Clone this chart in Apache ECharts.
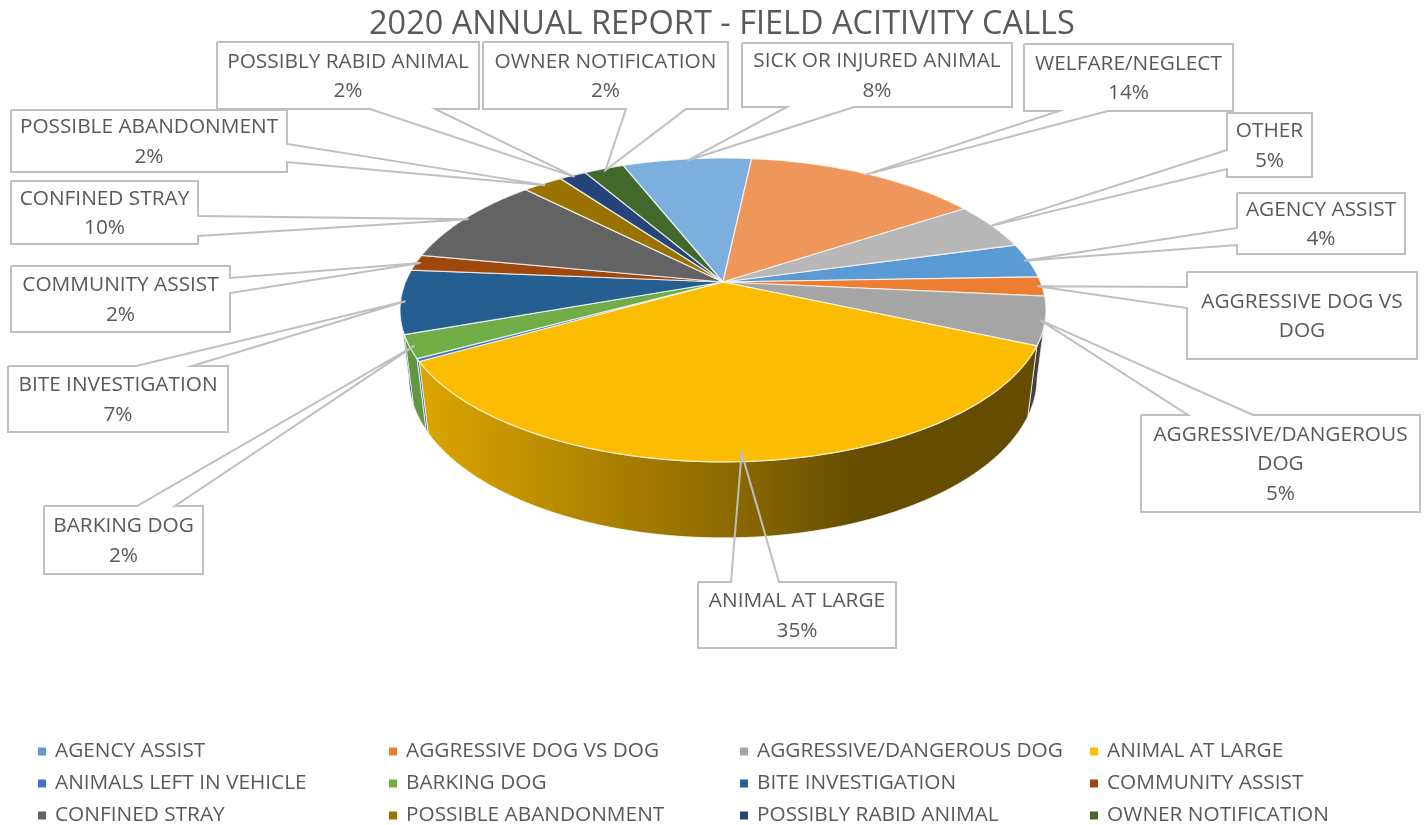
<!DOCTYPE html>
<html>
<head>
<meta charset="utf-8">
<title>2020 Annual Report</title>
<script src="https://cdn.jsdelivr.net/npm/echarts@6/dist/echarts.min.js"></script>
<style>
	html, body { margin: 0; padding: 0; background: #fff; }
	#main { width: 1425px; height: 825px; }
</style>
</head>
<body>
<div id="main"></div>
<script>
var titleText = "2020 ANNUAL REPORT - FIELD ACITIVITY CALLS";

var categories = ["AGENCY ASSIST", "AGGRESSIVE DOG VS DOG", "AGGRESSIVE/DANGEROUS DOG", "ANIMAL AT LARGE", "ANIMALS LEFT IN VEHICLE", "BARKING DOG", "BITE INVESTIGATION", "COMMUNITY ASSIST", "CONFINED STRAY", "POSSIBLE ABANDONMENT", "POSSIBLY RABID ANIMAL", "OWNER NOTIFICATION", "SICK OR INJURED ANIMAL", "WELFARE/NEGLECT", "OTHER"];
var values = [3.7, 2.05, 5.1, 35.2, 0.3, 2.45, 6.75, 1.7, 9.6, 2.4, 1.6, 2.4, 7.7, 14.05, 5.0];
var colors = ["#5b9bd5", "#ed7d31", "#a5a5a5", "#fcbd00", "#4472c4", "#70ad47", "#255e91", "#9e480e", "#636363", "#997300", "#264478", "#43682b", "#7cafdd", "#ef965b", "#b7b7b7"];

// legend columns (sick, welfare and other do not fit in the original legend)
var legendColumns = [
	["AGENCY ASSIST", "ANIMALS LEFT IN VEHICLE", "CONFINED STRAY"],
	["AGGRESSIVE DOG VS DOG", "BARKING DOG", "POSSIBLE ABANDONMENT"],
	["AGGRESSIVE/DANGEROUS DOG", "BITE INVESTIGATION", "POSSIBLY RABID ANIMAL"],
	["ANIMAL AT LARGE", "COMMUNITY ASSIST", "OWNER NOTIFICATION"]
];
var legendLefts = [38, 389, 740, 1090];

// callout boxes, same order as categories: x, y, w, h, side the wedge leaves from, wedge roots along that side
var calloutBoxes = [
	{ x: 1237, y: 193, w: 168, h: 61, side: "left", roots: [245, 228], text: "AGENCY ASSIST" },
	{ x: 1187, y: 272, w: 230, h: 87, side: "left", roots: [308, 287], text: "AGGRESSIVE DOG VS\nDOG", noPercent: true },
	{ x: 1141, y: 415, w: 279, h: 97, side: "top", roots: [1188, 1253], text: "AGGRESSIVE/DANGEROUS\nDOG" },
	{ x: 698, y: 582, w: 198, h: 66, side: "top", roots: [731, 779], text: "ANIMAL AT LARGE", tipFrac: 0.96 },
	null,
	{ x: 44, y: 506, w: 159, h: 68, side: "top", roots: [137, 175], text: "BARKING DOG" },
	{ x: 8, y: 366, w: 220, h: 66, side: "top", roots: [136, 192], text: "BITE INVESTIGATION" },
	{ x: 11, y: 266, w: 219, h: 66, side: "right", roots: [278, 293], text: "COMMUNITY ASSIST" },
	{ x: 11, y: 181, w: 187, h: 63, side: "right", roots: [216, 236], text: "CONFINED STRAY" },
	{ x: 11, y: 110, w: 276, h: 62, side: "right", roots: [144, 162], text: "POSSIBLE ABANDONMENT" },
	{ x: 217, y: 42, w: 262, h: 67, side: "bottom", roots: [435, 370], text: "POSSIBLY RABID ANIMAL" },
	{ x: 483, y: 42, w: 245, h: 67, side: "bottom", roots: [686, 626], text: "OWNER NOTIFICATION" },
	{ x: 742, y: 43, w: 270, h: 64, side: "bottom", roots: [854, 787], text: "SICK OR INJURED ANIMAL" },
	{ x: 1024, y: 44, w: 209, h: 67, side: "bottom", roots: [1108, 1059], text: "WELFARE/NEGLECT" },
	{ x: 1227, y: 113, w: 85, h: 64, side: "left", roots: [169, 150], text: "OTHER" }
];

var fontName = "'Open Sans', 'Noto Sans', sans-serif";
var textColor = "#595959";
var lineColor = "#bfbfbf";

// pie geometry: perspective view of a flat disc
var startAngle = 74.7;
var apexX = 723, apexY = 282;
var radiusX = 317.5, radiusY = 146.8, persp = 0.184;
var depth = 69, depthPersp = 0.0275;
var wallFrom = 100.6, wallTo = 259.4;

var total = 0;
values.forEach(function(v) { total += v; });

function project(angle, frac, h) {
	var rad = angle * Math.PI / 180;
	var u = Math.sin(rad) * frac;
	var v = -Math.cos(rad) * frac;
	var w = 1 / (1 - persp * v + depthPersp * h);
	return [apexX + radiusX * u * w, apexY + (radiusY * v + depth * h) * w];
}

function shade(hex, f) {
	var n = parseInt(hex.slice(1), 16);
	var r = Math.round((n >> 16 & 255) * f);
	var g = Math.round((n >> 8 & 255) * f);
	var b = Math.round((n & 255) * f);
	return "rgb(" + r + "," + g + "," + b + ")";
}

function wallFill(color) {
	return new echarts.graphic.LinearGradient(425, 0, 1030, 0, [
		{ offset: 0, color: shade(color, 0.87) },
		{ offset: 0.5, color: shade(color, 0.56) },
		{ offset: 0.72, color: shade(color, 0.4) },
		{ offset: 1, color: shade(color, 0.4) }
	], true);
}

function calloutOutline(box, tip) {
	var x2 = box.x + box.w, y2 = box.y + box.h;
	var r = box.roots;
	var pts = [];
	// clockwise from the top left corner, wedge goes in on its own side
	pts.push([box.x, box.y]);
	if(box.side == "top") pts.push([r[0], box.y], tip, [r[1], box.y]);
	pts.push([x2, box.y]);
	if(box.side == "right") pts.push([x2, r[0]], tip, [x2, r[1]]);
	pts.push([x2, y2]);
	if(box.side == "bottom") pts.push([r[0], y2], tip, [r[1], y2]);
	pts.push([box.x, y2]);
	if(box.side == "left") pts.push([box.x, r[0]], tip, [box.x, r[1]]);
	pts.push([box.x, box.y]);
	return pts;
}

function renderSlice(index) {
	return function(params, api) {
		var value = api.value(0);
		var before = 0;
		for(var i = 0; i < index; i++) before += values[i];
		var from = startAngle + before / total * 360;
		var to = from + value / total * 360;
		var children = [];

		// side wall, only the part facing the viewer
		var a0 = Math.max(from, wallFrom), a1 = Math.min(to, wallTo);
		if(a0 < a1) {
			var wall = [], back = [];
			for(var a = a0; a < a1; a += 1) {
				wall.push(project(a, 1, 0));
				back.unshift(project(a, 1, 1));
			}
			wall.push(project(a1, 1, 0));
			back.unshift(project(a1, 1, 1));
			children.push({
				type: "polygon",
				z2: 1,
				shape: { points: wall.concat(back) },
				style: { fill: wallFill(colors[index]), stroke: "rgba(255,255,255,0.7)", lineWidth: 1 }
			});
		}

		// top face
		var top = [project(0, 0, 0)];
		for(var a = from; a < to; a += 1) top.push(project(a, 1, 0));
		top.push(project(to, 1, 0));
		children.push({
			type: "polygon",
			z2: 10,
			shape: { points: top },
			style: { fill: colors[index], stroke: "rgba(255,255,255,0.75)", lineWidth: 1.2, lineJoin: "round" }
		});

		// callout
		var box = calloutBoxes[index];
		if(box) {
			var tip = project((from + to) / 2, box.tipFrac || 0.985, 0);
			var label = box.text;
			if(!box.noPercent) label += "\n" + Math.round(value / total * 100) + "%";
			children.push({
				type: "rect",
				z2: 100 + index * 3,
				shape: { x: box.x, y: box.y, width: box.w, height: box.h },
				style: { fill: "#fff" }
			});
			children.push({
				type: "polyline",
				z2: 101 + index * 3,
				shape: { points: calloutOutline(box, tip) },
				style: { fill: null, stroke: lineColor, lineWidth: 2 }
			});
			children.push({
				type: "text",
				z2: 102 + index * 3,
				style: {
					text: label,
					x: box.x + box.w / 2,
					y: box.y + box.h / 2 + 1,
					align: "center",
					verticalAlign: "middle",
					fontSize: 20.8,
					lineHeight: 29.5,
					fontFamily: fontName,
					fill: textColor
				}
			});
		}
		return { type: "group", children: children };
	};
}

var myChart = echarts.init(document.getElementById("main"));

var option = {
	backgroundColor: "#fff",
	animation: false,
	title: {
		text: titleText,
		left: 364,
		top: 3,
		textStyle: { fontFamily: fontName, fontSize: 32.5, fontWeight: "normal", color: textColor }
	},
	legend: legendColumns.map(function(col, i) {
		return {
			data: col,
			orient: "vertical",
			left: legendLefts[i],
			top: 741,
			height: 120,
			itemWidth: 8,
			itemHeight: 8,
			itemGap: 11,
			icon: "rect",
			padding: 0,
			selectedMode: false,
			textStyle: { fontFamily: fontName, fontSize: 20.8, color: textColor, padding: [0, 0, 0, 4] }
		};
	}),
	series: categories.map(function(name, i) {
		return {
			type: "custom",
			name: name,
			coordinateSystem: "none",
			silent: true,
			itemStyle: { color: colors[i] },
			renderItem: renderSlice(i),
			data: [[values[i]]]
		};
	})
};

myChart.setOption(option, true);
</script>
</body>
</html>
